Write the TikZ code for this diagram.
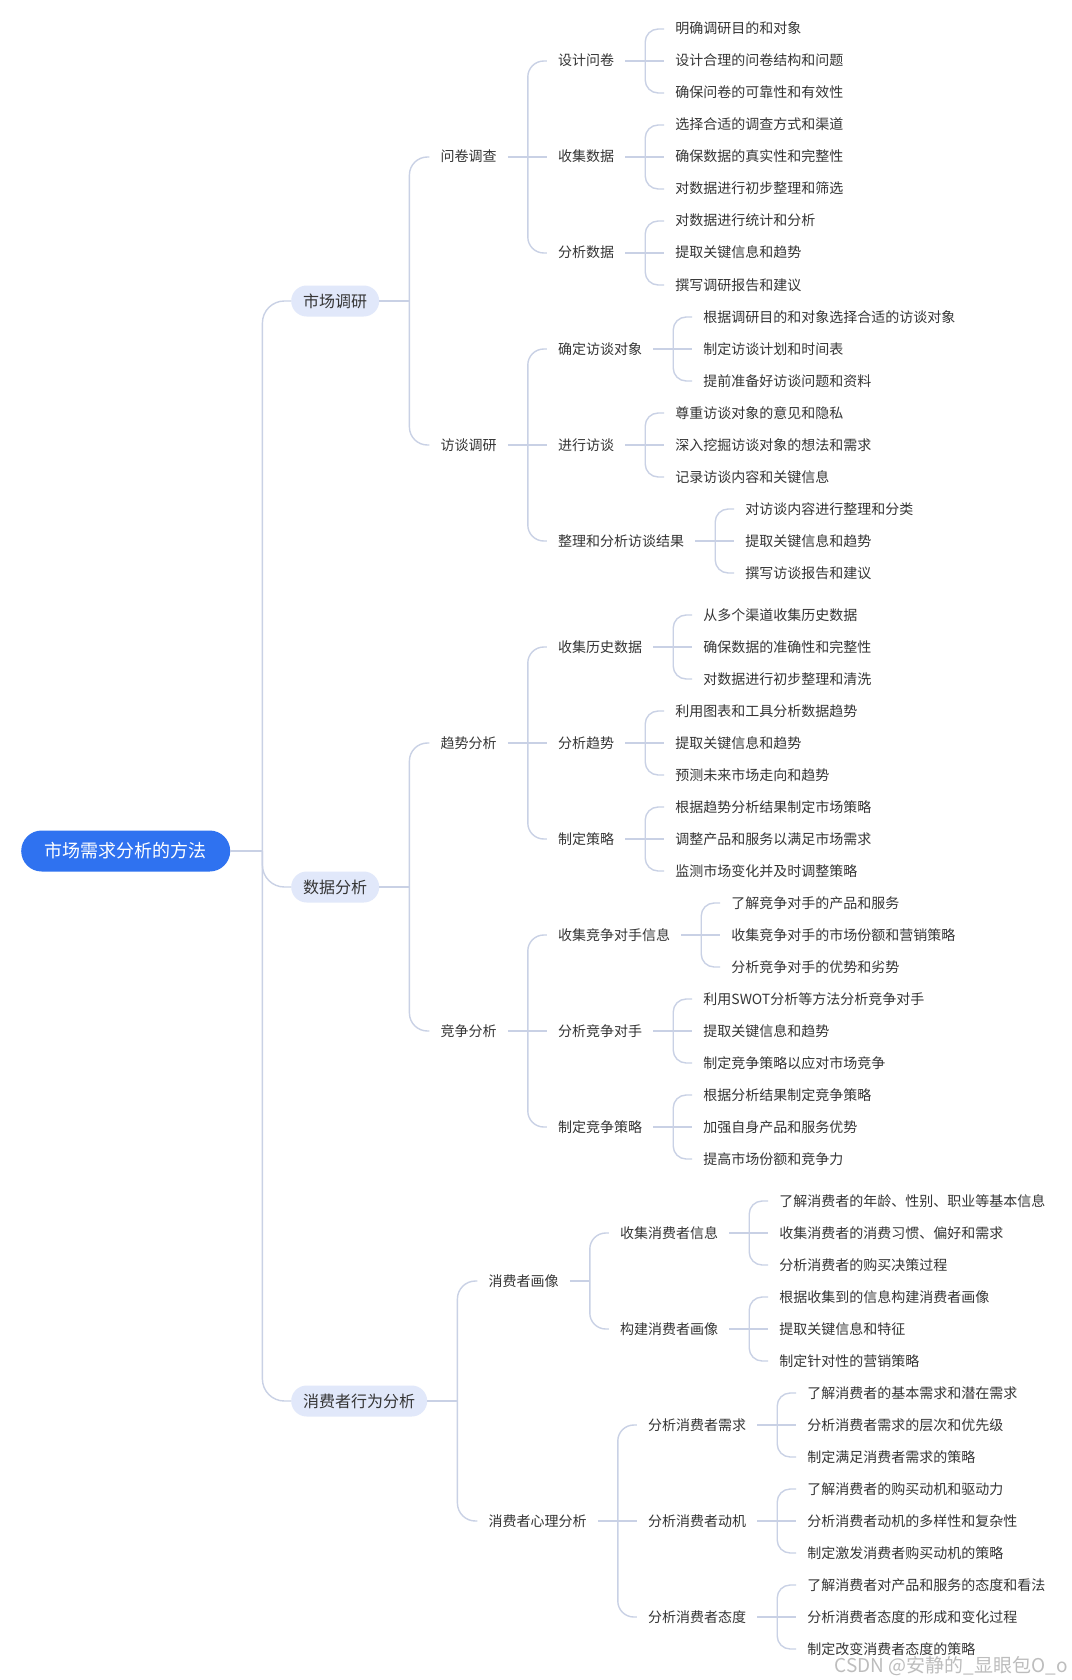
\documentclass[tikz,border=0pt]{standalone}
\usepackage{fontspec}
\setmainfont{Noto Sans CJK SC}
\definecolor{linec}{HTML}{C9D1E5}
\definecolor{txt}{HTML}{353535}
\definecolor{lonefill}{HTML}{E1E8FA}
\definecolor{rootc}{HTML}{2F72F0}
\definecolor{wmc}{HTML}{BDBDBD}
\tikzset{
  conn/.style={draw=linec, line width=1.4pt},
  leaf/.style={font=\fontsize{14pt}{16pt}\selectfont, text=txt, inner sep=0pt, anchor=west, text height=12pt, text depth=2pt},
  lone/.style={fill=lonefill, rounded corners=15.5pt, minimum height=31pt, inner xsep=12pt, inner ysep=0pt, font=\fontsize{16pt}{18pt}\selectfont, anchor=west, text=txt},
  rootbox/.style={fill=rootc, text=white, rounded corners=20.5pt, minimum height=41pt, inner xsep=23.5pt, inner ysep=0pt, font=\fontsize{18pt}{20pt}\selectfont, anchor=west}
}
\newcommand\kid[4]{\path ([xshift=61pt]#2.east) coordinate (tmpx); \node[leaf] (#1) at (tmpx |- 0,#3) {#4};}
\newcommand\grp[5]{%
  \draw[conn] ([xshift=11pt]#1.east) -- ([xshift=31pt]#1.east) coordinate (bus) -- ([xshift=-11pt]#3.west);
  \draw[conn, rounded corners=#5] ([xshift=-11pt]#2.west) -| (bus) |- ([xshift=-11pt]#4.west);}
\newcommand\grptwo[4]{%
  \draw[conn] ([xshift=11pt]#1.east) -- ([xshift=31pt]#1.east) coordinate (bus);
  \draw[conn, rounded corners=#4] ([xshift=-11pt]#2.west) -| (bus) |- ([xshift=-11pt]#3.west);}
\newcommand\leaves[7]{%
  \kid{#1a}{#1}{#2}{#3}\kid{#1b}{#1}{#4}{#5}\kid{#1c}{#1}{#6}{#7}%
  \grp{#1}{#1a}{#1b}{#1c}{13pt}}
\begin{document}
\begin{tikzpicture}[x=1pt,y=-1pt]
\fill[white] (0,0) rectangle (1071,1680);
\useasboundingbox (0,0) rectangle (1071,1680);

\node[rootbox] (R) at (21,851) {市场需求分析的方法};
\node[lone] (A) at (291,301) {市场调研};
\node[lone] (B) at (291,887) {数据分析};
\node[lone] (C) at (291,1401) {消费者行为分析};

\draw[conn] (R.east) -- ++(32pt,0) coordinate (rb);
\draw[conn, rounded corners=22pt] (A.west) -| (rb) |- (C.west);
\draw[conn, rounded corners=22pt] (rb) |- (B.west);

% ---------- 市场调研
\kid{A1}{A}{157}{问卷调查}
\kid{A2}{A}{445}{访谈调研}
\draw[conn] (A.east) -- ++(30pt,0) coordinate (ab);
\draw[conn, rounded corners=18pt] ([xshift=-11pt]A1.west) -| (ab) |- ([xshift=-11pt]A2.west);

\kid{A11}{A1}{61}{设计问卷}
\kid{A12}{A1}{157}{收集数据}
\kid{A13}{A1}{253}{分析数据}
\grp{A1}{A11}{A12}{A13}{16pt}
\leaves{A11}{29}{明确调研目的和对象}{61}{设计合理的问卷结构和问题}{93}{确保问卷的可靠性和有效性}
\leaves{A12}{125}{选择合适的调查方式和渠道}{157}{确保数据的真实性和完整性}{189}{对数据进行初步整理和筛选}
\leaves{A13}{221}{对数据进行统计和分析}{253}{提取关键信息和趋势}{285}{撰写调研报告和建议}

\kid{A21}{A2}{349}{确定访谈对象}
\kid{A22}{A2}{445}{进行访谈}
\kid{A23}{A2}{541}{整理和分析访谈结果}
\grp{A2}{A21}{A22}{A23}{16pt}
\leaves{A21}{317}{根据调研目的和对象选择合适的访谈对象}{349}{制定访谈计划和时间表}{381}{提前准备好访谈问题和资料}
\leaves{A22}{413}{尊重访谈对象的意见和隐私}{445}{深入挖掘访谈对象的想法和需求}{477}{记录访谈内容和关键信息}
\leaves{A23}{509}{对访谈内容进行整理和分类}{541}{提取关键信息和趋势}{573}{撰写访谈报告和建议}

% ---------- 数据分析
\kid{B1}{B}{743}{趋势分析}
\kid{B2}{B}{1031}{竞争分析}
\draw[conn] (B.east) -- ++(30pt,0) coordinate (bb);
\draw[conn, rounded corners=18pt] ([xshift=-11pt]B1.west) -| (bb) |- ([xshift=-11pt]B2.west);

\kid{B11}{B1}{647}{收集历史数据}
\kid{B12}{B1}{743}{分析趋势}
\kid{B13}{B1}{839}{制定策略}
\grp{B1}{B11}{B12}{B13}{16pt}
\leaves{B11}{615}{从多个渠道收集历史数据}{647}{确保数据的准确性和完整性}{679}{对数据进行初步整理和清洗}
\leaves{B12}{711}{利用图表和工具分析数据趋势}{743}{提取关键信息和趋势}{775}{预测未来市场走向和趋势}
\leaves{B13}{807}{根据趋势分析结果制定市场策略}{839}{调整产品和服务以满足市场需求}{871}{监测市场变化并及时调整策略}

\kid{B21}{B2}{935}{收集竞争对手信息}
\kid{B22}{B2}{1031}{分析竞争对手}
\kid{B23}{B2}{1127}{制定竞争策略}
\grp{B2}{B21}{B22}{B23}{16pt}
\leaves{B21}{903}{了解竞争对手的产品和服务}{935}{收集竞争对手的市场份额和营销策略}{967}{分析竞争对手的优势和劣势}
\leaves{B22}{999}{利用SWOT分析等方法分析竞争对手}{1031}{提取关键信息和趋势}{1063}{制定竞争策略以应对市场竞争}
\leaves{B23}{1095}{根据分析结果制定竞争策略}{1127}{加强自身产品和服务优势}{1159}{提高市场份额和竞争力}

% ---------- 消费者行为分析
\kid{C1}{C}{1281}{消费者画像}
\kid{C2}{C}{1521}{消费者心理分析}
\draw[conn] (C.east) -- ++(30pt,0) coordinate (cb);
\draw[conn, rounded corners=18pt] ([xshift=-11pt]C1.west) -| (cb) |- ([xshift=-11pt]C2.west);

\kid{C11}{C1}{1233}{收集消费者信息}
\kid{C12}{C1}{1329}{构建消费者画像}
\grptwo{C1}{C11}{C12}{16pt}
\leaves{C11}{1201}{了解消费者的年龄、性别、职业等基本信息}{1233}{收集消费者的消费习惯、偏好和需求}{1265}{分析消费者的购买决策过程}
\leaves{C12}{1297}{根据收集到的信息构建消费者画像}{1329}{提取关键信息和特征}{1361}{制定针对性的营销策略}

\kid{C21}{C2}{1425}{分析消费者需求}
\kid{C22}{C2}{1521}{分析消费者动机}
\kid{C23}{C2}{1617}{分析消费者态度}
\grp{C2}{C21}{C22}{C23}{16pt}
\leaves{C21}{1393}{了解消费者的基本需求和潜在需求}{1425}{分析消费者需求的层次和优先级}{1457}{制定满足消费者需求的策略}
\leaves{C22}{1489}{了解消费者的购买动机和驱动力}{1521}{分析消费者动机的多样性和复杂性}{1553}{制定激发消费者购买动机的策略}
\leaves{C23}{1585}{了解消费者对产品和服务的态度和看法}{1617}{分析消费者态度的形成和变化过程}{1649}{制定改变消费者态度的策略}

\node[anchor=east, inner sep=0pt, text=wmc, font=\fontsize{19pt}{21pt}\selectfont] (wm) at (1068,1666) {CSDN @安静的\_显眼包O\_o};
\end{tikzpicture}
\end{document}
